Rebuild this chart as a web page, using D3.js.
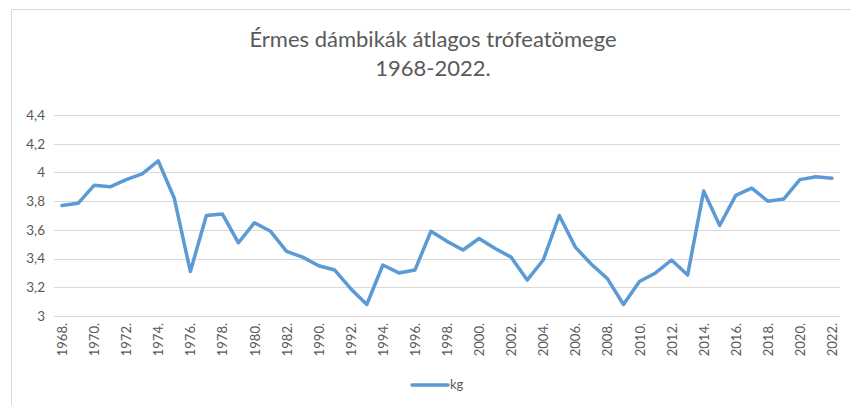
<!DOCTYPE html>
<html>
<head>
    <meta charset="utf-8">
    <title>Érmes dámbikák</title>
    <script src="https://d3js.org/d3.v7.min.js"></script>
    <style>
        body { margin: 0; background: #fff; }
        text { font-family: Lato, "Liberation Sans", sans-serif; }
    </style>
</head>
<body>
<div id="chart"></div>
<script>
    // évek (a 15. elem felirata rejtett)
    let years = ["1968", "1969", "1970", "1971", "1972", "1973", "1974", "1975", "1976", "1977",
                 "1978", "1979", "1980", "1981", "1982", "1989", "1990", "1991", "1992", "1993",
                 "1994", "1995", "1996", "1997", "1998", "1999", "2000", "2001", "2002", "2003",
                 "2004", "2005", "2006", "2007", "2008", "2009", "2010", "2011", "2012", "2013",
                 "2014", "2015", "2016", "2017", "2018", "2019", "2020", "2021", "2022"];

    let kg = [3.77, 3.785, 3.91, 3.90, 3.95, 3.99, 4.08, 3.82, 3.31, 3.70,
              3.71, 3.51, 3.65, 3.59, 3.45, 3.41, 3.35, 3.32, 3.19, 3.08,
              3.355, 3.30, 3.32, 3.59, 3.52, 3.46, 3.54, 3.47, 3.41, 3.25,
              3.39, 3.70, 3.48, 3.36, 3.26, 3.08, 3.24, 3.30, 3.39, 3.285,
              3.87, 3.63, 3.84, 3.89, 3.80, 3.815, 3.95, 3.97, 3.96];

    let yTicks = [3, 3.2, 3.4, 3.6, 3.8, 4, 4.2, 4.4];

    let W = 851, H = 405;
    let margin = {top: 115, right: 11, bottom: 89, left: 54};
    let w = W - margin.left - margin.right;
    let h = H - margin.top - margin.bottom;

    let root = d3.select("#chart")
            .append("svg")
                .attr("width", W)
                .attr("height", H);

    // keret
    root.append("rect")
        .attr("x", 11.5).attr("y", 9.5)
        .attr("width", 860).attr("height", 420)
        .attr("fill", "none")
        .attr("stroke", "#d9d9d9");

    root.append("text")
        .attr("x", 433).attr("y", 47)
        .attr("text-anchor", "middle")
        .attr("font-size", "22px")
        .attr("fill", "#595959")
        .text("Érmes dámbikák átlagos trófeatömege");
    root.append("text")
        .attr("x", 433).attr("y", 76)
        .attr("text-anchor", "middle")
        .attr("font-size", "22px")
        .attr("fill", "#595959")
        .text("1968-2022.");

    let svg = root.append("g")
        .attr("transform", "translate(" + margin.left + "," + margin.top + ")");

    let xScale = d3.scalePoint()
        .domain(years)
        .range([0, w])
        .padding(0.5);

    let yScale = d3.scaleLinear()
        .domain([3, 4.4])
        .range([h, 0]);

    // rácsvonalak
    svg.append("g")
        .selectAll("line")
        .data(yTicks)
        .enter()
        .append("line")
            .attr("x1", 0).attr("x2", w)
            .attr("y1", d => Math.round(yScale(d)) + 0.5)
            .attr("y2", d => Math.round(yScale(d)) + 0.5)
            .attr("stroke", "#d9d9d9")
            .attr("stroke-width", 1);

    let fmt = d => d3.format("~g")(d).replace(".", ",");

    let yAxis = d3.axisLeft(yScale)
        .tickValues(yTicks)
        .tickFormat(fmt)
        .tickSize(0)
        .tickPadding(9);

    let gy = svg.append("g").call(yAxis);
    gy.select(".domain").remove();
    gy.selectAll("text")
        .attr("font-size", "13.5px")
        .attr("fill", "#595959")
        .style("font-family", "Lato, 'Liberation Sans', sans-serif");

    let xAxis = d3.axisBottom(xScale)
        .tickValues(years.filter((d, i) => i % 2 === 0))
        .tickFormat(d => d + ".")
        .tickSize(0);

    let gx = svg.append("g")
        .attr("transform", "translate(0," + h + ")")
        .call(xAxis);
    gx.select(".domain").remove();
    gx.selectAll("text")
        .attr("transform", "translate(0,7) rotate(-90)")
        .attr("x", 0).attr("y", 0)
        .attr("dy", "0.35em")
        .style("text-anchor", "end")
        .attr("font-size", "13px")
        .attr("fill", "#595959")
        .style("font-family", "Lato, 'Liberation Sans', sans-serif");

    let line = d3.line()
        .x((d, i) => xScale(years[i]))
        .y(d => yScale(d));

    svg.append("path")
        .datum(kg)
        .attr("d", line)
        .attr("fill", "none")
        .attr("stroke", "#5b9bd5")
        .attr("stroke-width", 3.5)
        .attr("stroke-linejoin", "round")
        .attr("stroke-linecap", "round");

    // jelmagyarázat
    root.append("line")
        .attr("x1", 412).attr("x2", 448)
        .attr("y1", 385).attr("y2", 385)
        .attr("stroke", "#5b9bd5")
        .attr("stroke-width", 3.5)
        .attr("stroke-linecap", "round");
    root.append("text")
        .attr("x", 450).attr("y", 389)
        .attr("font-size", "13px")
        .attr("fill", "#595959")
        .text("kg");
</script>
</body>
</html>
